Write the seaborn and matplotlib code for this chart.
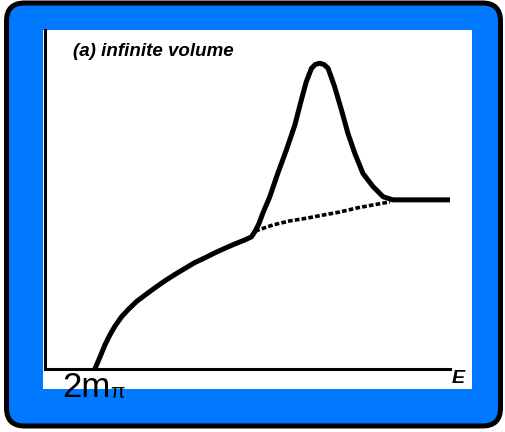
import matplotlib
matplotlib.use("Agg")
import matplotlib.pyplot as plt
from matplotlib.patches import FancyBboxPatch, Rectangle
from matplotlib.transforms import IdentityTransform
import seaborn as sns

# full line shape: rising continuum, resonance peak, flat tail
energy = [1.23, 1.36, 1.48, 1.60, 1.73, 1.89, 2.06, 2.26, 2.47, 2.72, 2.96, 3.21,
          3.46, 3.70, 3.95, 4.20, 4.44, 4.69, 4.94, 5.10,
          5.19, 5.28, 5.38, 5.55, 5.75, 5.96, 6.17, 6.33, 6.45, 6.58, 6.67, 6.78,
          6.89, 6.99, 7.15, 7.32, 7.48, 7.65, 7.85, 8.10, 8.35, 8.59, 9.01, 10.0]
cross_section = [0.00, 0.36, 0.71, 1.00, 1.27, 1.54, 1.76, 1.99, 2.18, 2.40, 2.60, 2.79,
                 2.97, 3.14, 3.28, 3.43, 3.56, 3.69, 3.81, 3.90,
                 4.07, 4.28, 4.60, 5.08, 5.78, 6.46, 7.20, 7.94, 8.47, 8.87, 8.98, 9.02,
                 8.98, 8.87, 8.33, 7.64, 6.95, 6.36, 5.77, 5.38, 5.08, 4.99, 4.99, 4.99]

# continuum under the resonance (dotted)
energy_bg = [5.19, 5.63, 6.05, 6.47, 6.86, 7.28, 7.70, 8.10, 8.52]
cross_section_bg = [4.07, 4.25, 4.37, 4.45, 4.54, 4.63, 4.75, 4.84, 4.93]

panel_label = "(a) infinite volume"
axis_label = "E"
threshold_label = "2m"
threshold_sub = "π"

sns.set_style("white")
plt.rcParams["font.family"] = ["Liberation Sans", "DejaVu Sans"]

W, H = 506, 432
fig = plt.figure(figsize=(W / 100, H / 100), dpi=100)
fig.patch.set_facecolor("white")

# blue rounded frame and white panel (pixel coordinates)
frame = FancyBboxPatch((6.5, 6), 494, 423, boxstyle="round,pad=0,rounding_size=18",
                       transform=IdentityTransform(), facecolor="#0078ff",
                       edgecolor="black", linewidth=3.6, zorder=-2)
fig.add_artist(frame)
panel = Rectangle((43, 43), 429, 359, transform=IdentityTransform(),
                  facecolor="white", edgecolor="none", zorder=-1)
fig.add_artist(panel)

ax = fig.add_axes([45 / W, 63 / H, 405 / W, 339 / H])
ax.patch.set_alpha(0)

sns.lineplot(x=energy, y=cross_section, ax=ax, color="black",
             linewidth=3.6, solid_capstyle="butt", solid_joinstyle="round")
sns.lineplot(x=energy_bg, y=cross_section_bg, ax=ax, color="black", linewidth=2.6)
ax.lines[-1].set_dashes((1.3, 0.6))

ax.set_xlim(0, 10)
ax.set_ylim(0, 10)
ax.set_xticks([])
ax.set_yticks([])
ax.set_xlabel("")
ax.set_ylabel("")
for side in ["top", "right"]:
    ax.spines[side].set_visible(False)
for side in ["left", "bottom"]:
    ax.spines[side].set_color("black")
    ax.spines[side].set_linewidth(2.2)

fig.text(73 / W, 1 - 51 / H, panel_label, fontsize=13.5, fontweight="bold",
         fontstyle="italic", color="black", ha="left", va="center")
fig.text(452 / W, 1 - 370 / H, axis_label, fontsize=14, fontweight="bold",
         fontstyle="italic", color="black", ha="left", va="top")
fig.text(62 / W, 1 - 397 / H, threshold_label, fontsize=25, color="black",
         ha="left", va="baseline")
fig.text(110 / W, 1 - 398 / H, threshold_sub, fontsize=15, color="black",
         ha="left", va="baseline")

plt.savefig("out.png", dpi=100)
plt.close()
